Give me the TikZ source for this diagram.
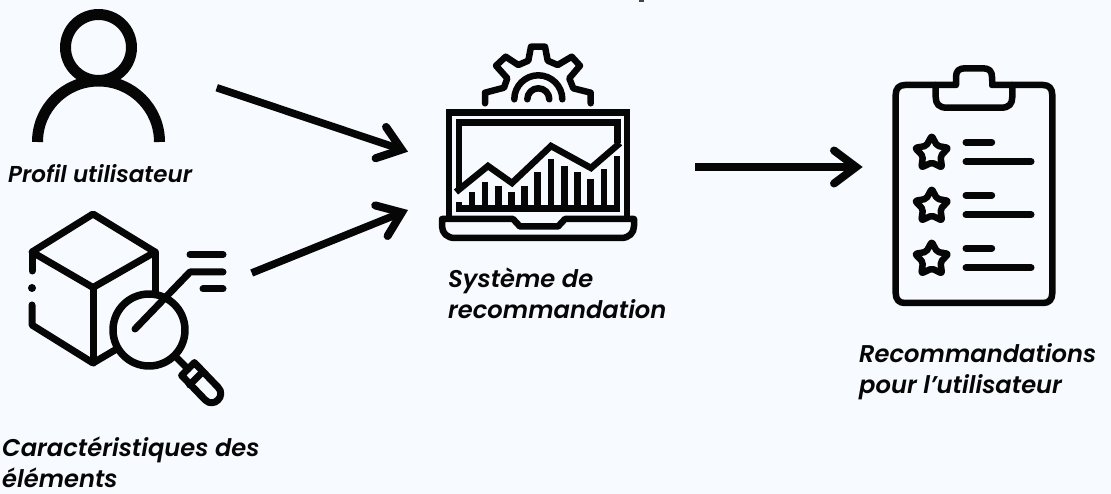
\documentclass[tikz,border=0pt]{standalone}
\usepackage{fontspec}
\setmainfont{Poppins}[ItalicFont=* Medium Italic,BoldItalicFont=* SemiBold Italic]
\usetikzlibrary{arrows.meta,shapes.geometric}
\definecolor{bgc}{HTML}{F7FAFF}
\definecolor{ink}{HTML}{060606}
\tikzset{
  icon/.style={draw=ink,line width=#1,line cap=round,line join=round},
  icon/.default=6.5pt,
  flow/.style={draw=ink,line width=7.5pt,line cap=butt,
    -{Straight Barb[length=22pt,width=33pt,line width=8pt,line cap=round,line join=miter]}},
  lbl/.style={anchor=base west,inner sep=0pt,align=left,text=ink,
    font=\fontsize{24.2}{31}\selectfont\bfseries\itshape},
  rate/.style={star,star points=5,star point ratio=1.9,draw=ink,line width=6.5pt,
    minimum size=35pt,inner sep=0pt,line join=round,rounded corners=2pt}
}
\begin{document}
\begin{tikzpicture}[x=1pt,y=-1pt]
\useasboundingbox (0,0) rectangle (1111,494);
\fill[bgc] (0,0) rectangle (1111,494);
\fill[ink!75] (638.5,0) rectangle (643.5,2);

% --- user icon
\draw[icon=11pt,line cap=butt] (98.5,47.5) circle[radius=33pt];
\draw[icon=11pt,line cap=butt] (37.5,142) arc[start angle=180,end angle=0,radius=61pt];

% --- box and magnifier icon
\draw[icon=7pt] (93,214) -- (155,252) -- (93,287.5) -- (32,252) -- cycle;
\draw[icon=7pt] (32,271) -- (32,252);
\fill[ink] (32,288) circle[radius=4pt];
\draw[icon=7pt] (32,305) -- (32,325) -- (93,363) -- (115,350);
\draw[icon=7pt] (93,287) -- (93,363);
\draw[icon=7pt] (155,252) -- (155,293);
\draw[icon=7.5pt] (149,330) circle[radius=36pt];
\draw[icon=7pt] (177,358) -- (188,369);
\draw[icon=7pt] (194.4,362.6) -- (218,387.2) .. controls (226.5,395.7) and (213.7,408.5) .. (205.2,400) -- (181.6,375.4) -- cycle;
\draw[icon=7pt] (202.4,372.1) -- (189.6,384.9);
\draw[icon=7pt] (135,329) -- (190,272) -- (223,272);
\draw[icon=7pt] (190,254.5) -- (223,254.5);
\draw[icon=7pt] (203,289) -- (223,289);

% --- laptop icon
\draw[icon=6.5pt,line join=miter,line cap=butt] (449,216) -- (449,112.5) -- (627,112.5) -- (627,216);
\draw[icon=6.5pt] (513,219) -- (442,219) -- (442,226) .. controls (442,233) and (447,238) .. (455,238) -- (621,238) .. controls (629,238) and (634,233) .. (634,226) -- (634,219) -- (565,219) -- (558,226.5) -- (520,226.5) -- cycle;
\draw[icon=6.5pt,line join=miter,line cap=butt] (459,188) -- (459,122.7) -- (617.3,122.7) -- (617.3,143);
\draw[icon=6.5pt,line join=miter,line cap=butt] (456,192) -- (488,166) -- (512,183) -- (551,146) -- (591,168) -- (620,143);
\draw[icon=7pt,line cap=butt] (456,208.5) -- (620,208.5);
\foreach \bx/\by in {459/202.3,472/192.3,485/182.3,498.3/185.7,511.7/192.3,524.7/185.7,537.7/172.3,551/159,564.3/165.7,577.3/172.3,590.7/179,604/169,617/155.7}
  \draw[icon=6.5pt,line cap=butt] (\bx,\by) -- (\bx,208);

% --- gear
\draw[icon=6.5pt] (485,103.3) -- (485,92.7) -- (504,87.7) -- (507.3,78.3) -- (496,65.7) -- (505.7,56.7) -- (518.3,65) -- (528.3,60.7) -- (531,46.7) -- (545,46.7) -- (547.7,60.7) -- (557.7,65) -- (571.7,56.7) -- (580,65.7) -- (569.3,78.3) -- (573.3,88.3) -- (590.7,92.7) -- (590.7,103.3);
\draw[icon=6.5pt] (514.3,99.3) arc[start angle=180,end angle=0,radius=24pt];
\draw[icon=6.5pt] (527.3,99.3) arc[start angle=180,end angle=0,radius=11pt];

% --- clipboard
\draw[icon=6.5pt] (956,85) -- (905,85) .. controls (899,85) and (895.7,88.5) .. (895.7,95) -- (895.7,293) .. controls (895.7,299.5) and (899,303) .. (905,303) -- (1043,303) .. controls (1049,303) and (1052.3,299.5) .. (1052.3,293) -- (1052.3,95) .. controls (1052.3,88.5) and (1049,85) .. (1043,85) -- (992,85) -- (992,77) .. controls (992,71) and (989,68.3) .. (983,68.3) -- (965,68.3) .. controls (959,68.3) and (956,71) .. (956,77) -- cycle;
\fill[bgc] (959.5,81) rectangle (988.5,88.5);
\draw[icon=6.5pt] (935.7,85) -- (935.7,97) .. controls (935.7,104) and (939,107.7) .. (947,107.7) -- (1001,107.7) .. controls (1009,107.7) and (1012.3,104) .. (1012.3,97) -- (1012.3,85);
\foreach \n/\sy in {1/152.3,2/205.3,3/258.3}{
  \node[rate] (star\n) at (931.7,\sy+1) {};
  \draw[icon=7pt] (966,\sy-10) -- (991.7,\sy-10);
  \draw[icon=7pt] (966,\sy+9.4) -- (1031,\sy+9.4);
}

% --- connectors
\coordinate (a1s) at (216.7,87.7);
\coordinate (a1e) at (408,151.7);
\coordinate (a2s) at (251.7,273);
\coordinate (a2e) at (408,210);
\coordinate (a3s) at (695,167);
\coordinate (a3e) at (862.7,167);
\draw[flow] (a1s) -- (a1e);
\draw[flow] (a2s) -- (a2e);
\draw[flow] (a3s) -- (a3e);

% --- labels
\node[lbl,font=\fontsize{23}{31}\selectfont\bfseries\itshape] (tprofil) at (8,183) {Profil utilisateur};
\node[lbl] (tcarac) at (2,487.5) {Caractéristiques des\\éléments};
\node[lbl] (tsys) at (448,319) {Système de\\recommandation};
\node[lbl] (treco) at (859,393.5) {Recommandations\\pour l’utilisateur};
\end{tikzpicture}
\end{document}
